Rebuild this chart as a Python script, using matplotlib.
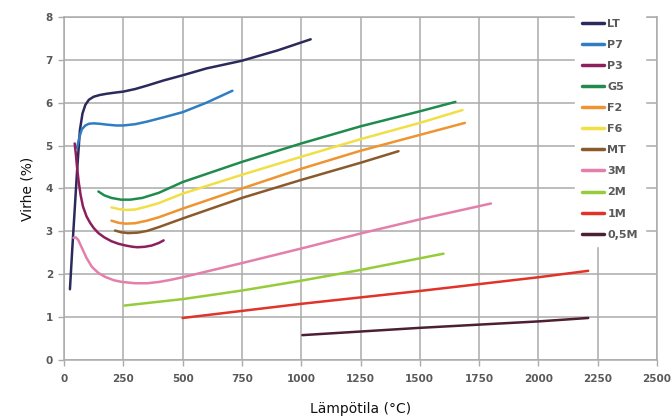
import matplotlib
matplotlib.use("Agg")
import matplotlib.pyplot as plt

labels = ["LT", "P7", "P3", "G5", "F2", "F6", "MT", "3M", "2M", "1M", "0,5M"]
colors = ["#2a2a5c", "#2f7dc2", "#8c1f5c", "#1f8c4e", "#ee9430", "#f0df45",
          "#8b5a2b", "#e47fab", "#96cc3a", "#e0332a", "#4d1f33"]

lt_x = [25, 35, 45, 55, 67, 78, 90, 105, 125, 150, 180, 220, 250, 300, 350, 420, 500, 600, 750, 900, 1040]
lt_y = [1.65, 2.6, 3.5, 4.4, 5.36, 5.75, 5.95, 6.07, 6.14, 6.18, 6.21, 6.24, 6.26, 6.32, 6.4, 6.52, 6.64, 6.8, 6.98, 7.22, 7.48]

p7_x = [55, 65, 75, 90, 105, 125, 150, 180, 220, 250, 300, 350, 420, 500, 600, 710]
p7_y = [4.95, 5.2, 5.38, 5.47, 5.51, 5.52, 5.51, 5.49, 5.47, 5.47, 5.5, 5.56, 5.66, 5.78, 6.0, 6.28]

p3_x = [45, 50, 55, 62, 70, 80, 95, 110, 125, 145, 170, 200, 230, 260, 290, 310, 340, 370, 400, 420]
p3_y = [5.05, 4.8, 4.5, 4.15, 3.85, 3.58, 3.35, 3.2, 3.08, 2.96, 2.86, 2.77, 2.71, 2.67, 2.64, 2.63, 2.64, 2.67, 2.73, 2.79]

g5_x = [145, 170, 200, 240, 280, 330, 400, 500, 750, 1000, 1250, 1500, 1650]
g5_y = [3.93, 3.84, 3.78, 3.74, 3.74, 3.78, 3.9, 4.15, 4.62, 5.05, 5.45, 5.8, 6.02]

f2_x = [200, 230, 260, 300, 350, 400, 500, 750, 1000, 1250, 1500, 1690]
f2_y = [3.25, 3.2, 3.18, 3.19, 3.25, 3.33, 3.53, 4.0, 4.46, 4.88, 5.25, 5.53]

f6_x = [200, 230, 260, 300, 350, 400, 500, 750, 1000, 1250, 1500, 1680]
f6_y = [3.56, 3.52, 3.5, 3.51, 3.58, 3.66, 3.88, 4.32, 4.74, 5.15, 5.53, 5.83]

mt_x = [215, 240, 270, 310, 350, 400, 500, 750, 1000, 1250, 1410]
mt_y = [3.02, 2.98, 2.96, 2.97, 3.01, 3.1, 3.3, 3.78, 4.2, 4.6, 4.87]

m3_x = [40, 50, 60, 70, 80, 95, 118, 145, 173, 210, 245, 300, 350, 400, 450, 500, 750, 1000, 1250, 1500, 1800]
m3_y = [2.85, 2.86, 2.8, 2.68, 2.56, 2.38, 2.17, 2.03, 1.94, 1.86, 1.82, 1.79, 1.79, 1.82, 1.87, 1.93, 2.26, 2.6, 2.95, 3.28, 3.65]

m2_x = [255, 500, 750, 1000, 1250, 1600]
m2_y = [1.27, 1.42, 1.62, 1.85, 2.1, 2.48]

m1_x = [500, 1000, 1500, 2000, 2210]
m1_y = [0.98, 1.31, 1.61, 1.93, 2.08]

m05_x = [1005, 1500, 2000, 2210]
m05_y = [0.58, 0.75, 0.9, 0.98]

series = [(lt_x, lt_y), (p7_x, p7_y), (p3_x, p3_y), (g5_x, g5_y), (f2_x, f2_y),
          (f6_x, f6_y), (mt_x, mt_y), (m3_x, m3_y), (m2_x, m2_y), (m1_x, m1_y), (m05_x, m05_y)]

x_ticks = [0, 250, 500, 750, 1000, 1250, 1500, 1750, 2000, 2250, 2500]
y_ticks = [0, 1, 2, 3, 4, 5, 6, 7, 8]

fig = plt.figure(figsize=(6.72, 4.19), dpi=100)
ax = fig.add_axes([64 / 672, 1 - 360 / 419, 593 / 672, 343 / 419])

grid_c = "#ababab"
for (xs, ys), lab, c in zip(series, labels, colors):
    ax.plot(xs, ys, color=c, lw=1.8, label=lab, solid_capstyle="round", zorder=3)

ax.set_xlim(0, 2500)
ax.set_ylim(0, 8)
ax.set_xticks(x_ticks)
ax.set_yticks(y_ticks)
ax.grid(True, color=grid_c, lw=1.1, zorder=0)
for s in ax.spines.values():
    s.set_color(grid_c)
    s.set_linewidth(1.1)
ax.spines["right"].set_zorder(7)
ax.tick_params(axis="both", colors=grid_c, length=4, width=1.0, labelcolor="#595959", labelsize=7.5)
for t in ax.get_xticklabels() + ax.get_yticklabels():
    t.set_fontweight("bold")
    t.set_family("Liberation Sans Narrow")
ax.tick_params(axis="x", pad=6)
ax.tick_params(axis="y", pad=4)

ax.set_xlabel("Lämpötila (°C)", fontsize=10, color="#111111", labelpad=13)
ax.set_ylabel("Virhe (%)", fontsize=10, color="#111111", labelpad=8)

leg = ax.legend(loc="upper left", bbox_to_anchor=(0.862, 1.015), frameon=True,
                fancybox=False, framealpha=1.0, edgecolor="white", facecolor="white",
                fontsize=8, handlelength=2.0, handletextpad=0.3, labelspacing=1.0,
                borderpad=0.6, borderaxespad=0)
for t in leg.get_texts():
    t.set_fontweight("bold")
    t.set_color("#595959")
    t.set_family("Liberation Sans Narrow")
for h in leg.get_lines():
    h.set_linewidth(2.5)
leg.set_zorder(5)

fig.savefig("out.png", dpi=100, facecolor="white")
